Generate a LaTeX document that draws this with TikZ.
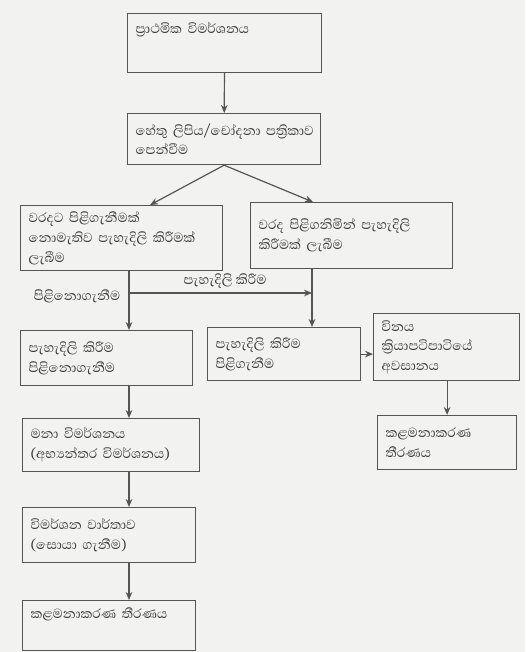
\documentclass[tikz,border=0pt]{standalone}
\usepackage{fontspec}
\newfontfamily\sinhala[Script=Sinhala]{Abhaya Libre}
\usetikzlibrary{arrows.meta,calc,positioning}
\definecolor{linegray}{HTML}{555555}
\definecolor{inkgray}{HTML}{3A3A3A}
\definecolor{paper}{HTML}{F2F2F0}
\tikzset{
  box/.style={draw=linegray, line width=0.9pt, rectangle, anchor=north west,
    align=left, inner xsep=6pt, inner ysep=2pt, text=inkgray,
    font=\sinhala\fontsize{12.6}{14.8}\selectfont},
  flow/.style={-{Stealth[length=6pt,width=5pt]}, draw=linegray, line width=0.9pt},
  plain/.style={draw=linegray, line width=0.9pt},
  tag/.style={text=inkgray, font=\sinhala\fontsize{12.6}{15}\selectfont},
}

\begin{document}
\begin{tikzpicture}[x=0.75pt,y=-0.75pt]
  % Paper
  \fill[paper] (0,0) rectangle (525,652);
  \useasboundingbox (0,0) rectangle (525,652);

  % Top of the chart
  \node[box, text width=133.5pt, minimum height=44.25pt, text depth=22pt] (b1) at (127,13) {ප්‍රාථමික විමර්ශනය};
  \node[box, text width=132.75pt, minimum height=38.25pt] (b2) at (127,113) {\mbox{හේතු ලිපිය/චෝදනා පත්‍රිකාව}\\පෙන්වීම};

  % Two ways of explanation
  \node[box, text width=139.5pt, minimum height=48.75pt] (b3) at (20,205) {වරදට පිළිගැනීමක්\\නොමැතිව පැහැදිලි කිරීමක්\\ලැබීම};
  \node[box, text width=139.5pt, minimum height=49.5pt] (b4) at (250,202) {වරද පිළිගනිමින් පැහැදිලි\\කිරීමක් ලැබීම};

  % Middle row
  \node[box, text width=117pt, minimum height=41.25pt] (b5) at (20,330) {පැහැදිලි කිරීම\\පිළිනොගැනීම};
  \node[box, text width=102.75pt, minimum height=39.75pt] (b7) at (207,327) {පැහැදිලි කිරීම\\පිළිගැනීම};
  \node[box, text width=97.5pt, minimum height=50.25pt] (b8) at (373,313) {විනය\\ක්‍රියාපටිපාටියේ\\අවසානය};
  \node[box, text width=92.25pt, minimum height=40.5pt] (b9) at (377,415) {කළමනාකරණ\\තීරණය};

  % Left column
  \node[box, text width=120.75pt, minimum height=39.75pt] (b10) at (22,418) {මනා විමර්ශනය\\(අභ්‍යන්තර විමර්ශනය)};
  \node[box, text width=117.75pt, minimum height=41.25pt] (b11) at (22,507) {විමර්ශන වාර්තාව\\(සොයා ගැනීම)};
  \node[box, text width=117.75pt, minimum height=37.5pt, text depth=18pt] (b12) at (22,600) {කළමනාකරණ තීරණය};

  % Branch points
  \coordinate (split) at (129,293);
  \coordinate (join) at (312,293);

  % Labels
  \node[tag] (reject) at (77,296) {පිළිනොගැනීම};
  \node[tag] (explain) at (225,281) {පැහැදිලි කිරීම};

  % Connectors
  \draw[flow] (b1) -- (b2);
  \draw[flow] (b2.south) -- ($(b3.north west)!0.64!(b3.north east)$);
  \draw[flow] (b2.south) -- ($(b4.north west)!0.31!(b4.north east)$);
  \draw[plain] (b3.south -| split) -- (split);
  \draw[flow] (split) -- (split |- b5.north);
  \draw[flow] (split) -- (join);
  \draw[flow] (b4.south -| join) -- (join |- b7.north);
  \draw[flow] (b7.east) -- (b7.east -| b8.west);
  \draw[flow] (b8.south -| b9.north) -- (b9.north);
  \draw[flow] (b5.south -| split) -- (b10.north -| split);
  \draw[flow] (b10.south -| split) -- (b11.north -| split);
  \draw[flow] (b11.south -| split) -- (b12.north -| split);
\end{tikzpicture}
\end{document}
